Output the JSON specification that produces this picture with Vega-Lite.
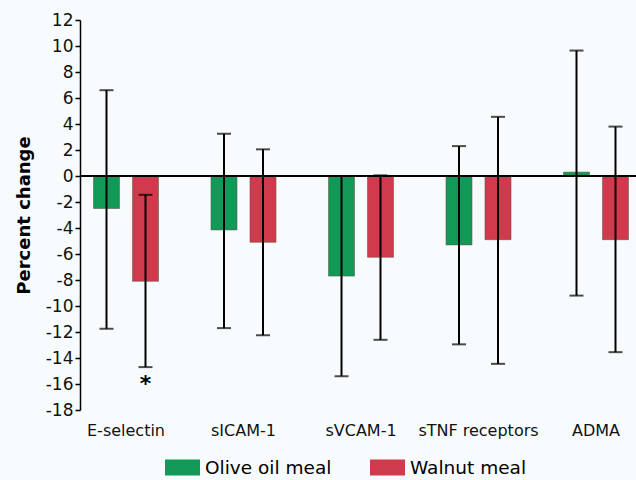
{
  "$schema": "https://vega.github.io/schema/vega-lite/v6.json",
  "width": 556,
  "height": 390,
  "autosize": {"type": "none"},
  "padding": {"left": 80, "top": 20, "right": 0, "bottom": 70},
  "background": "#f8fbfd",
  "config": {
    "view": {"stroke": null},
    "font": "DejaVu Sans",
    "axisY": {
      "labelOverlap": false,
      "labelFontSize": 17,
      "labelColor": "#111",
      "labelPadding": 2,
      "grid": false,
      "domainColor": "#000",
      "domainWidth": 1.5,
      "tickColor": "#000",
      "tickWidth": 1.5,
      "tickSize": 5,
      "titleFont": "DejaVu Sans",
      "titleFontSize": 18,
      "titleFontWeight": "bold",
      "titleColor": "#000",
      "titlePadding": 12
    }
  },
  "data": {
    "values": [
      {"marker": "E-selectin", "meal": "Olive oil meal", "change": -2.5, "lo": -11.75, "hi": 6.6},
      {"marker": "E-selectin", "meal": "Walnut meal", "change": -8.1, "lo": -14.7, "hi": -1.45},
      {"marker": "sICAM-1", "meal": "Olive oil meal", "change": -4.15, "lo": -11.7, "hi": 3.25},
      {"marker": "sICAM-1", "meal": "Walnut meal", "change": -5.1, "lo": -12.25, "hi": 2.05},
      {"marker": "sVCAM-1", "meal": "Olive oil meal", "change": -7.7, "lo": -15.4, "hi": 0.0},
      {"marker": "sVCAM-1", "meal": "Walnut meal", "change": -6.25, "lo": -12.6, "hi": 0.05},
      {"marker": "sTNF receptors", "meal": "Olive oil meal", "change": -5.3, "lo": -12.95, "hi": 2.3},
      {"marker": "sTNF receptors", "meal": "Walnut meal", "change": -4.9, "lo": -14.45, "hi": 4.55},
      {"marker": "ADMA", "meal": "Olive oil meal", "change": 0.3, "lo": -9.2, "hi": 9.65},
      {"marker": "ADMA", "meal": "Walnut meal", "change": -4.9, "lo": -13.55, "hi": 3.8}
    ]
  },
  "encoding": {
    "x": {
      "field": "marker",
      "type": "nominal",
      "sort": ["E-selectin", "sICAM-1", "sVCAM-1", "sTNF receptors", "ADMA"],
      "scale": {"range": [0, 562], "paddingInner": 0.217, "paddingOuter": 0},
      "axis": {
        "title": null,
        "orient": "bottom",
        "domain": false,
        "ticks": false,
        "labelAngle": 0,
        "labelFontSize": 16,
        "labelColor": "#111",
        "labelPadding": 12,
        "labelFont": "DejaVu Sans"
      }
    },
    "xOffset": {
      "field": "meal",
      "type": "nominal",
      "sort": ["Olive oil meal", "Walnut meal"],
      "scale": {"paddingInner": 0.333, "paddingOuter": 0.346}
    }
  },
  "layer": [
    {
      "mark": {"type": "bar", "stroke": "#5a5a4a", "strokeWidth": 0.8, "strokeOpacity": 0.7},
      "encoding": {
        "y": {
          "field": "change",
          "type": "quantitative",
          "scale": {"domain": [-18, 12], "nice": false, "zero": false},
          "axis": {
            "title": "Percent change",
            "values": [-18, -16, -14, -12, -10, -8, -6, -4, -2, 0, 2, 4, 6, 8, 10, 12],
            "tickCount": 20,
            "labelOverlap": false,
            "labelFontSize": 17,
            "labelExpr": "replace(datum.label, '−', '-')"
          }
        },
        "color": {
          "field": "meal",
          "type": "nominal",
          "scale": {"domain": ["Olive oil meal", "Walnut meal"], "range": ["#129957", "#cf3a4c"]},
          "legend": {
            "title": null,
            "orient": "none",
            "direction": "horizontal",
            "legendX": 85,
            "legendY": 430,
            "symbolType": "M-1,-0.457H1V0.457H-1Z",
            "symbolSize": 1225,
            "symbolStrokeWidth": 0,
            "symbolOpacity": 1,
            "labelFontSize": 18.5,
            "labelFont": "DejaVu Sans",
            "labelColor": "#000",
            "labelOffset": 5,
            "columnPadding": 38,
            "labelLimit": 300
          }
        }
      }
    },
    {
      "mark": {"type": "rule", "color": "#000", "strokeWidth": 2},
      "encoding": {"y": {"datum": 0, "type": "quantitative"}, "x": null, "xOffset": null}
    },
    {
      "mark": {"type": "rule", "color": "#000", "strokeWidth": 2},
      "encoding": {
        "y": {"field": "lo", "type": "quantitative"},
        "y2": {"field": "hi"}
      }
    },
    {
      "mark": {"type": "tick", "color": "#000", "thickness": 2, "size": 14, "orient": "horizontal"},
      "encoding": {"y": {"field": "lo", "type": "quantitative"}}
    },
    {
      "mark": {"type": "tick", "color": "#000", "thickness": 2, "size": 14, "orient": "horizontal"},
      "encoding": {"y": {"field": "hi", "type": "quantitative"}}
    },
    {
      "transform": [{"filter": "datum.marker === 'E-selectin' && datum.meal === 'Walnut meal'"}],
      "mark": {"type": "text", "text": "*", "fontSize": 22, "fontWeight": "bold", "color": "#000", "baseline": "alphabetic", "align": "center"},
      "encoding": {"y": {"datum": -16.5, "type": "quantitative"}}
    }
  ]
}
